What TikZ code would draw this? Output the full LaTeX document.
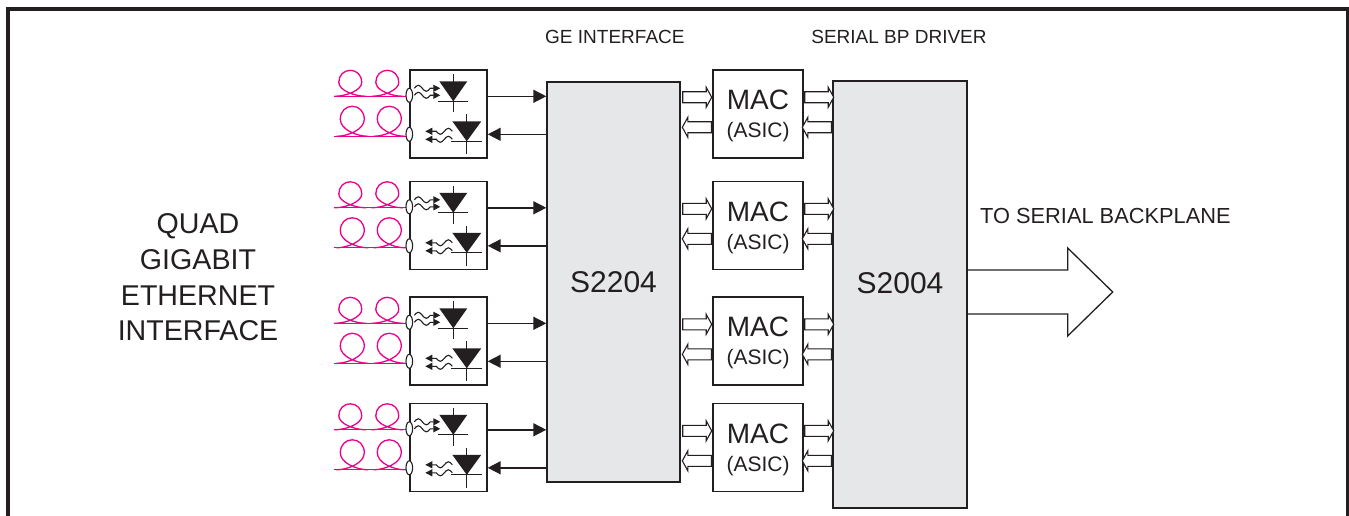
\documentclass[tikz,border=0pt]{standalone}
\usepackage{fontspec}
\setmainfont{Liberation Sans}
\usetikzlibrary{calc,positioning,arrows.meta}

\definecolor{fiber}{RGB}{236,0,140}
\definecolor{chip}{RGB}{230,231,232}
\definecolor{ink}{RGB}{35,31,32}

\begin{document}
\begin{tikzpicture}[x=1pt,y=-1pt,
  box/.style={draw=ink,line width=1.4pt,minimum width=77pt,minimum height=88pt,inner sep=0pt},
  chipbox/.style={draw=ink,line width=1.4pt,fill=chip,inner sep=0pt,text=ink,font=\fontsize{30}{34}\selectfont},
  lbl/.style={text=ink,inner sep=0pt,font=\fontsize{19}{22}\selectfont},
  mactxt/.style={text=ink,inner sep=0pt,font=\fontsize{28}{32}\selectfont},
  sig/.style={draw=ink,line width=1.5pt,-{Triangle[length=13pt,width=13pt]}},
  wave/.style={draw=ink,line width=1.1pt,-{Triangle[length=7pt,width=7pt]}},
  fib/.style={draw=fiber,line width=1.3pt},
  pics/bus/.style={code={\draw[draw=ink,fill=white,line width=1.1pt]
    (0,-5.5) -- (#1-5.5,-5.5) -- (#1-5.5,-10) -- (#1,0) -- (#1-5.5,10) -- (#1-5.5,5.5) -- (0,5.5) -- cycle;}}
  ]
  \useasboundingbox (0,0) rectangle (1349,516);

  % frame
  \draw[ink,line width=3.5pt] (8,520) -- (8,9) -- (1347.5,9) -- (1347.5,520);

  % chips
  \node[chipbox,minimum width=133pt,minimum height=400pt] (ge) at (613.5,282) {S2204};
  \node[chipbox,minimum width=134pt,minimum height=427pt] (bp) at (900,294.5) {};
  \node[mactxt,font=\fontsize{30}{34}\selectfont] (bptxt) at (900,283) {S2004};

  \node[lbl,anchor=west] (gelbl) at (545,37) {GE INTERFACE};
  \node[lbl] (bplbl) at (899,37) {SERIAL BP DRIVER};
  \node[lbl,anchor=west,font=\fontsize{21.8}{24}\selectfont] (outlbl) at (980,216) {TO SERIAL BACKPLANE};
  \node[text=ink,align=center,font=\fontsize{28.6}{35.7}\selectfont] (quad) at (198,277.5)
    {QUAD\\GIGABIT\\ETHERNET\\INTERFACE};

  % four ports
  \foreach \i/\t in {1/70,2/181.5,3/297,4/403.5} {
    \node[box] (trx\i) at (448.5,\t+44) {};
    \node[box,minimum width=90pt] (mac\i) at (758,\t+44) {};
    \node[mactxt] (mact\i) at ([yshift=-31pt]mac\i.north) {MAC};
    \node[mactxt,font=\fontsize{21}{24}\selectfont] (maca\i) at ([yshift=-63pt]mac\i.north) {(ASIC)};

    \coordinate (tx\i) at ($(trx\i.north east)+(0,27)$);
    \coordinate (rx\i) at ($(trx\i.north east)+(0,65)$);
    \draw[sig] (tx\i) -- (tx\i -| ge.west);
    \draw[sig] (rx\i -| ge.west) -- (rx\i);

    \coordinate (up\i) at ($(mac\i.north west)+(0,28)$);
    \coordinate (dn\i) at ($(mac\i.north west)+(0,58)$);
    \pic at ($(up\i -| ge.east)+(2,0)$) {bus=29};
    \pic[rotate=180] at ($(dn\i)+(-1,0)$) {bus=29};
    \pic at ($(up\i -| mac\i.east)+(1,0)$) {bus=29};
    \pic[rotate=180] at ($(dn\i -| bp.west)+(-1,0)$) {bus=29};

    \begin{scope}[shift={(trx\i.north west)}]
      % fibres
      \draw[fib] (-75,27) -- (0,27);
      \draw[fib] (-75,67) -- (0,67);
      \foreach \c in {-59,-22}
        \draw[fib] (\c-16,27) .. controls (\c-4,27) and (\c+11.5,21) .. (\c+11.5,13)
          .. controls (\c+11.5,6) and (\c+6.4,1) .. (\c,1)
          .. controls (\c-6.4,1) and (\c-11.5,6) .. (\c-11.5,13)
          .. controls (\c-11.5,21) and (\c+4,27) .. (\c+16,27);
      \foreach \c in {-57,-20}
        \draw[fib] (\c-16,67) .. controls (\c-4,67) and (\c+12,60) .. (\c+12,50)
          .. controls (\c+12,42) and (\c+6.6,37) .. (\c,37)
          .. controls (\c-6.6,37) and (\c-12,42) .. (\c-12,50)
          .. controls (\c-12,60) and (\c+4,67) .. (\c+16,67);
      \draw[ink,line width=1.1pt,fill=white] (0,26) ellipse (3.3 and 7);
      \draw[ink,line width=1.1pt,fill=white] (0,65) ellipse (3.3 and 7);
      % receiver
      \fill[ink] (30,12) -- (58,12) -- (44,32) -- cycle;
      \draw[ink,line width=1.3pt] (44,5) -- (44,43) (29,32) -- (59,32);
      \foreach \w in {19,26}
        \draw[wave] (5,\w) sin (9,\w-3) cos (13,\w) sin (17,\w+3) cos (21,\w) -- (31,\w);
      % emitter
      \fill[ink] (43,52) -- (72,52) -- (57.5,72) -- cycle;
      \draw[ink,line width=1.3pt] (57.5,45) -- (57.5,85) (42,72) -- (73,72);
      \foreach \w in {62,70}
        \draw[wave] (43,\w) sin (39,\w-3) cos (35,\w) sin (31,\w+3) cos (27,\w) -- (16,\w);
    \end{scope}
  }

  % output bus
  \draw[ink,line width=1.3pt] ($(bp.east)+(0,-24.5)$) -- ++(100,0) -- ++(0,-22) -- ++(45,44)
    -- ++(-45,44) -- ++(0,-22) -- ++(-100,0);
\end{tikzpicture}
\end{document}
